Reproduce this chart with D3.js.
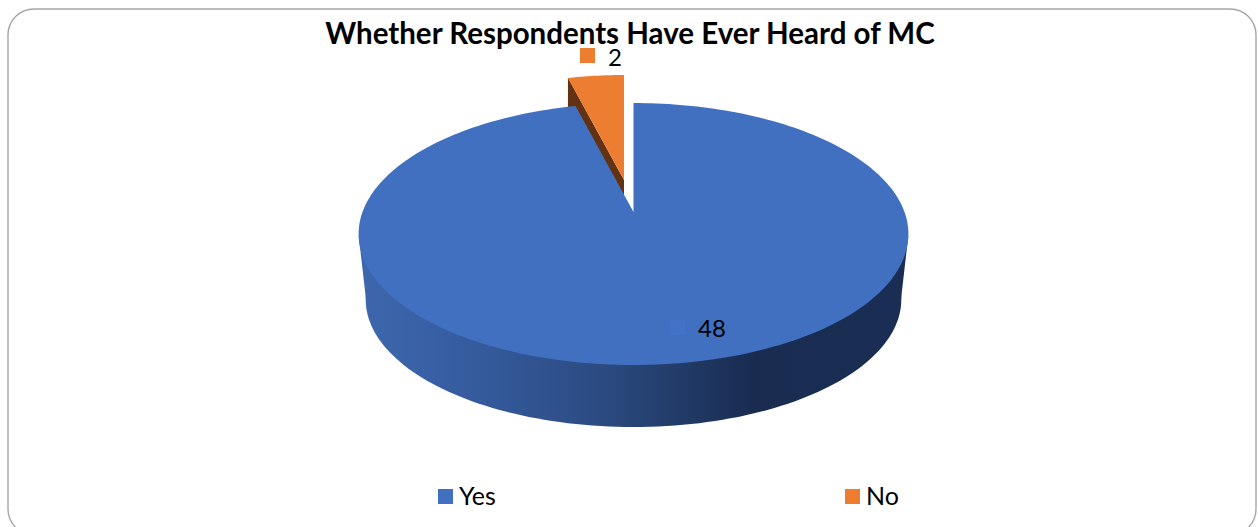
<!DOCTYPE html>
<html><head><meta charset="utf-8">
<script src="https://cdn.jsdelivr.net/npm/d3@7"></script>
<style>html,body{margin:0;padding:0;background:#fff;overflow:hidden}svg{display:block}text{font-family:Lato,"Open Sans",sans-serif;fill:#000}</style>
</head><body><svg id="c" width="1258" height="527"></svg>
<script>
const categories = ["Yes", "No"];
const seriesValues = [48, 2];
const colors = ["#4170c1", "#ed7d31"];
const titleText = "Whether Respondents Have Ever Heard of MC";

const svg = d3.select("#c");
const color = d3.scaleOrdinal(categories, colors);
const pie = d3.pie().sort(null)(seriesValues);

// Perspective projection of a circle onto the slide plane
const K = -0.168;
const proj = (g, t) => {
  const u = Math.sin(t), v = -Math.cos(t), w = 1 + K * v;
  return [g.x + g.b * u / w, g.y + g.a * v / w];
};
const topG = {x: 633.5, y: 212, a: 127.3, b: 271};
const lowG = {x: 633.5, y: 278, a: 124, b: 264};
const explG = {x: 624, y: 180, a: 122.6, b: 262};
const explLow = {x: 624, y: 196, a: 122.6, b: 262};

const line = d3.line();
const sweep = (g, a0, a1, n = 240) => d3.range(n + 1).map(i => proj(g, a0 + (a1 - a0) * i / n));

svg.append("rect").attr("x", 8).attr("y", 9).attr("width", 1248).attr("height", 526)
  .attr("rx", 26).attr("fill", "#fff").attr("stroke", "#a6a6a6").attr("stroke-width", 1.4);

const defs = svg.append("defs");
const grad = defs.append("linearGradient").attr("id", "wall").attr("gradientUnits", "userSpaceOnUse")
  .attr("x1", 359).attr("x2", 908).attr("y1", 0).attr("y2", 0);
[[0, "#3d67ad"], [0.2, "#365c9f"], [0.45, "#2b4a80"], [0.72, "#192c50"], [1, "#1a2e55"]]
  .forEach(([o, c]) => grad.append("stop").attr("offset", o).attr("stop-color", c));
defs.append("clipPath").attr("id", "below").append("rect")
  .attr("x", 340).attr("y", 236).attr("width", 590).attr("height", 200);

// Side wall of the main slice, kept below the pie's widest line so the gap stays white
const wall = svg.append("g").attr("clip-path", "url(#below)");
wall.append("path").attr("d", line(sweep(lowG, 0, 2 * Math.PI)) + "Z").attr("fill", "url(#wall)");
wall.append("path").attr("fill", "url(#wall)")
  .attr("d", line([[358.5, 234], [908.5, 234], [901, 299.5], [366, 299.5]]) + "Z");

// Exploded slice: cut wall (its foot is hidden by the main slice), then top face
const no = pie[1], yes = pie[0];
const rimTop = proj(explG, no.startAngle), rimLow = proj({...explLow, y: 214}, no.startAngle);
svg.append("path").attr("fill", "#633212")
  .attr("d", line([[explG.x, explG.y], rimTop, rimLow, [explLow.x, explLow.y]]) + "Z");
svg.append("path").attr("fill", color(categories[1]))
  .attr("d", line([[explG.x, explG.y], ...sweep(explG, no.startAngle, no.endAngle, 24)]) + "Z");

// Top face of the main slice
svg.append("path").attr("fill", color(categories[0]))
  .attr("d", line([[topG.x, topG.y], ...sweep(topG, yes.startAngle, yes.endAngle)]) + "Z");

// Title
svg.append("text").attr("x", 630).attr("y", 44).attr("text-anchor", "middle")
  .attr("font-size", 29.5).attr("font-weight", 700).text(titleText);

// Data labels with legend keys
const labels = [{x: 670, y: 320, key: "#4373c6", tx: 698, ty: 337, v: seriesValues[0]},
                {x: 580, y: 48, key: colors[1], tx: 608, ty: 66, v: seriesValues[1]}];
labels.forEach(l => {
  svg.append("rect").attr("x", l.x).attr("y", l.y).attr("width", 15).attr("height", 15).attr("fill", l.key);
  svg.append("text").attr("x", l.tx).attr("y", l.ty).attr("font-size", 24).text(l.v);
});

// Legend
const legendX = d3.scaleOrdinal(categories, [438, 845]);
categories.forEach(c => {
  svg.append("rect").attr("x", legendX(c)).attr("y", 489).attr("width", 15).attr("height", 15).attr("fill", color(c));
  svg.append("text").attr("x", legendX(c) + 21).attr("y", 505).attr("font-size", 25).text(c);
});
</script></body></html>
